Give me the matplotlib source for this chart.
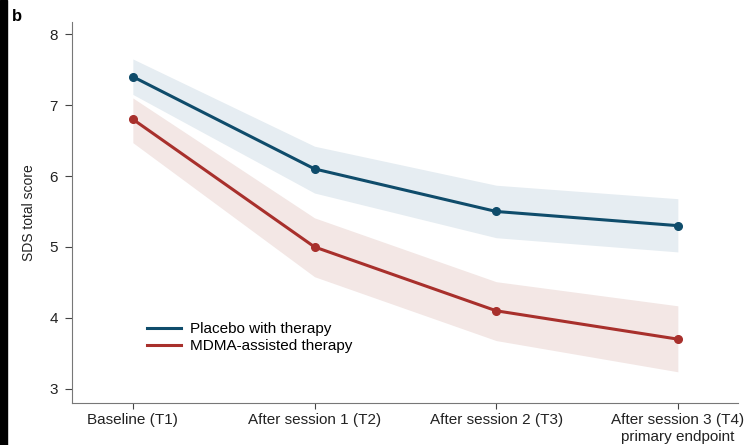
import matplotlib
matplotlib.use('Agg')
import matplotlib.pyplot as plt
from matplotlib.patches import Rectangle

plt.rcParams['font.family'] = ['Liberation Sans', 'DejaVu Sans']

# timepoints and SDS scores
timepoints = ['Baseline (T1)', 'After session 1 (T2)', 'After session 2 (T3)',
              'After session 3 (T4)\nprimary endpoint']
placebo_mean = [7.4, 6.1, 5.5, 5.3]
placebo_low = [7.15, 5.76, 5.13, 4.93]
placebo_high = [7.65, 6.42, 5.87, 5.68]
mdma_mean = [6.8, 5.0, 4.1, 3.7]
mdma_low = [6.47, 4.58, 3.68, 3.24]
mdma_high = [7.1, 5.41, 4.51, 4.17]

blue = '#0f4c6b'
red = '#a8302c'
x = list(range(len(timepoints)))

fig = plt.figure(figsize=(7.46, 4.45), dpi=100)
ax = fig.add_axes([0.0965, 0.0944, 0.8925, 0.856])

ax.fill_between(x, placebo_low, placebo_high, color='#e6edf2', lw=0, zorder=1)
ax.fill_between(x, mdma_low, mdma_high, color='#f3e7e5', lw=0, zorder=1)
ax.plot(x, placebo_mean, color=blue, lw=2.2, marker='o', ms=5.5,
        label='Placebo with therapy', zorder=3)
ax.plot(x, mdma_mean, color=red, lw=2.2, marker='o', ms=5.5,
        label='MDMA-assisted therapy', zorder=3)

ax.set_xlim(-0.335, 3.33)
ax.set_ylim(2.80, 8.17)
ax.set_yticks([3, 4, 5, 6, 7, 8])
ax.set_xticks(x)
ax.set_xticklabels(timepoints, fontsize=11)
ax.tick_params(axis='y', labelsize=11, colors='#444444', length=5, width=0.8, pad=5)
ax.tick_params(axis='x', colors='#444444', length=4, width=0.8)
for lab in ax.get_xticklabels():
    lab.set_color('#222222')
for lab in ax.get_yticklabels():
    lab.set_color('#222222')
ax.set_ylabel('SDS total score', fontsize=10, color='#222222', labelpad=10)

for s in ['top', 'right']:
    ax.spines[s].set_visible(False)
for s in ['left', 'bottom']:
    ax.spines[s].set_color('#777777')
    ax.spines[s].set_linewidth(0.8)

leg = ax.legend(loc='lower left', bbox_to_anchor=(0.092, 0.095), frameon=False,
                fontsize=11, handlelength=2.2, handletextpad=0.6,
                labelspacing=0.2)
for line in leg.get_lines():
    line.set_marker('')

fig.text(0.016, 0.962, 'b', fontsize=12, fontweight='bold', va='center')
fig.patches.append(Rectangle((0, 0), 7 / 746, 1, transform=fig.transFigure,
                             color='black', zorder=10))

fig.savefig('out.png', dpi=100)
